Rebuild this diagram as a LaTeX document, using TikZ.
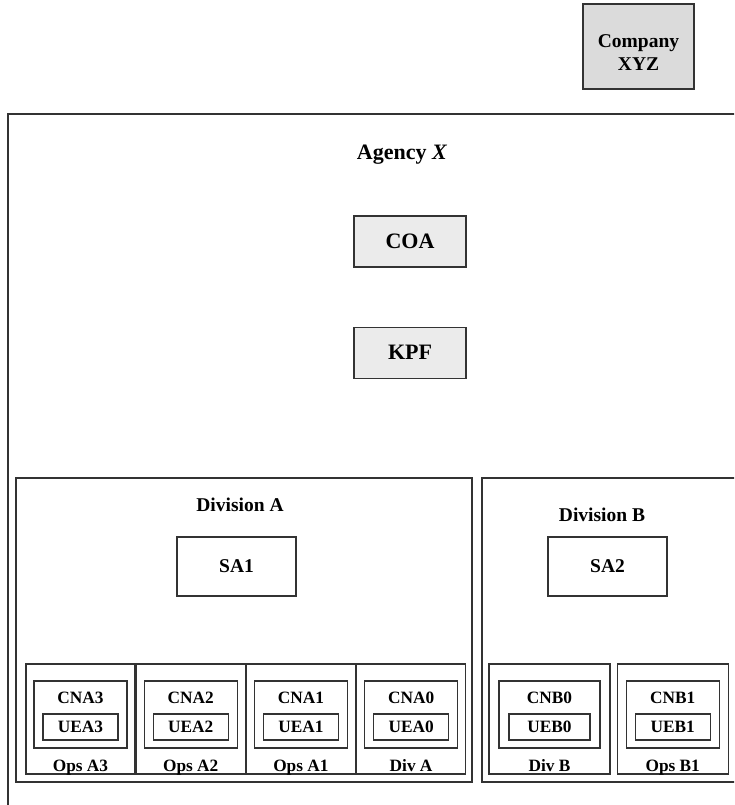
\documentclass[tikz,border=0pt]{standalone}
\usepackage{fontspec}
\setmainfont{Liberation Serif}
\usetikzlibrary{positioning}

\begin{document}
\begin{tikzpicture}[%
	x=1pt,
	y=-1pt,
	node distance=59pt,
	every node/.style={font=\bfseries},
	frame/.style={%
		rectangle,
		draw=black!80,
		line width=1.2pt
	},
	head/.style={%
		font=\fontsize{22}{26}\selectfont\bfseries,
		inner sep=0pt,
		text height=14.5pt,
		text depth=0pt
	},
	mid/.style={%
		font=\fontsize{19.5}{22}\selectfont\bfseries,
		inner sep=0pt,
		text height=12.9pt,
		text depth=0pt
	},
	lbl/.style={%
		font=\fontsize{17.3}{20}\selectfont\bfseries,
		inner sep=0pt,
		text height=11.4pt,
		text depth=0pt
	},
	big/.style={%
		frame,
		head,
		fill=gray!16,
		minimum width=112pt,
		minimum height=51pt
	},
	sabox/.style={%
		frame,
		mid,
		minimum width=119pt,
		minimum height=59pt
	},
	ops/.style={%
		frame,
		minimum width=109pt,
		minimum height=110pt
	},
	cn/.style={%
		frame,
		minimum width=93pt,
		minimum height=67pt
	},
	ue/.style={%
		frame,
		lbl,
		minimum width=75pt,
		minimum height=26pt
	}
	]

	\useasboundingbox (0,0) rectangle (734,805);
	\clip (0,0) rectangle (734,805);

	\node[frame, fill=gray!28, minimum width=111pt, minimum height=85pt] (company) at (638.5,46.5) {};
	\node[font=\fontsize{19.5}{23}\selectfont\bfseries, align=center, inner sep=0pt, anchor=north]
		(companyname) at (638.5,34) {Company\\XYZ};

	% agency and its head office
	\node[frame, minimum width=760pt, minimum height=720pt] (agency) at (388,474) {};
	\node[head] (agencyname) at (402,152) {Agency \textit{X}};
	\node[big] (coa) at (410,241.5) {COA};
	\node[big] (kpf) [below=of coa] {KPF};

	% divisions
	\node[frame, minimum width=456pt, minimum height=304pt] (divA) at (244,630) {};
	\node[frame, minimum width=288pt, minimum height=304pt] (divB) at (626,630) {};
	\node[mid] (divAname) at (240,505.5) {Division A};
	\node[mid] (divBname) at (602,515) {Division B};
	\node[sabox] (sa1) at (236.5,566.5) {SA1};
	\node[sabox] (sa2) at (607.5,566.5) {SA2};

	% units of division A
	\node[ops] (opsA3) at (80.5,719) {};
	\node[ops] (opsA2) [right=0pt of opsA3] {};
	\node[ops] (opsA1) [right=0pt of opsA2] {};
	\node[ops] (opsA0) [right=0pt of opsA1] {};
	\node[cn] (cnA3) [below=17pt of opsA3.north] {};
	\node[cn] (cnA2) [below=17pt of opsA2.north] {};
	\node[cn] (cnA1) [below=17pt of opsA1.north] {};
	\node[cn] (cnA0) [below=17pt of opsA0.north] {};
	\node[lbl] (cnA3name) [below=11pt of cnA3.north] {CNA3};
	\node[lbl] (cnA2name) [below=11pt of cnA2.north] {CNA2};
	\node[lbl] (cnA1name) [below=11pt of cnA1.north] {CNA1};
	\node[lbl] (cnA0name) [below=11pt of cnA0.north] {CNA0};
	\node[ue] (ueA3) [below=33pt of cnA3.north] {UEA3};
	\node[ue] (ueA2) [below=33pt of cnA2.north] {UEA2};
	\node[ue] (ueA1) [below=33pt of cnA1.north] {UEA1};
	\node[ue] (ueA0) [below=33pt of cnA0.north] {UEA0};
	\node[lbl] (opsA3name) [above=3pt of opsA3.south] {Ops A3};
	\node[lbl] (opsA2name) [above=3pt of opsA2.south] {Ops A2};
	\node[lbl] (opsA1name) [above=3pt of opsA1.south] {Ops A1};
	\node[lbl] (opsA0name) [above=3pt of opsA0.south] {Div A};

	% units of division B
	\node[ops, minimum width=121pt] (opsB0) at (549.5,719) {};
	\node[ops, minimum width=111pt] (opsB1) [right=6pt of opsB0] {};
	\node[cn, minimum width=101pt] (cnB0) [below=17pt of opsB0.north] {};
	\node[cn] (cnB1) [below=17pt of opsB1.north] {};
	\node[lbl] (cnB0name) [below=11pt of cnB0.north] {CNB0};
	\node[lbl] (cnB1name) [below=11pt of cnB1.north] {CNB1};
	\node[ue, minimum width=81pt] (ueB0) [below=33pt of cnB0.north] {UEB0};
	\node[ue] (ueB1) [below=33pt of cnB1.north] {UEB1};
	\node[lbl] (opsB0name) [above=3pt of opsB0.south] {Div B};
	\node[lbl] (opsB1name) [above=3pt of opsB1.south] {Ops B1};
\end{tikzpicture}
\end{document}
